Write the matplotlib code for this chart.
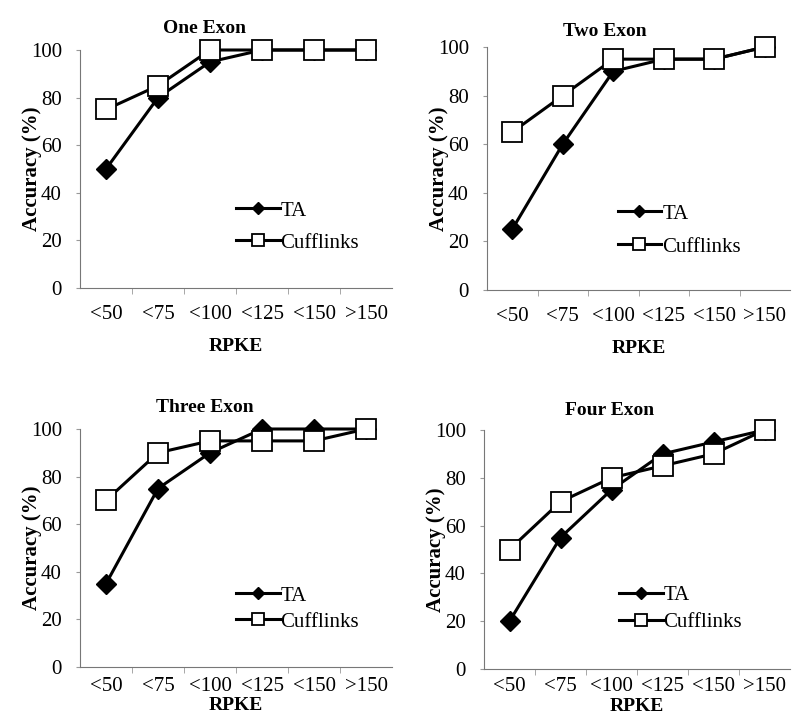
import matplotlib
matplotlib.use("Agg")
import matplotlib.pyplot as plt
import numpy as np

plt.rcParams['font.family'] = ['Liberation Serif', 'DejaVu Serif']

categories = ["<50", "<75", "<100", "<125", "<150", ">150"]
titles = ["One Exon", "Two Exon", "Three Exon", "Four Exon"]

ta_one = [50, 80, 95, 100, 100, 100]
cuff_one = [75, 85, 100, 100, 100, 100]
ta_two = [25, 60, 90, 95, 95, 100]
cuff_two = [65, 80, 95, 95, 95, 100]
ta_three = [35, 75, 90, 100, 100, 100]
cuff_three = [70, 90, 95, 95, 95, 100]
ta_four = [20, 55, 75, 90, 95, 100]
cuff_four = [50, 70, 80, 85, 90, 100]

ta_all = [ta_one, ta_two, ta_three, ta_four]
cuff_all = [cuff_one, cuff_two, cuff_three, cuff_four]

fig = plt.figure(figsize=(7.93, 7.28), dpi=100)
W, H = 793, 728
# pixel boxes (left, top, right, bottom) of each plot area
boxes = [(80, 50, 392, 288), (487, 47, 790, 290),
         (80, 429, 392, 667), (484, 430, 790, 669)]
title_x = [0.40, 0.39, 0.40, 0.41]
title_pad = [12, 8, 12, 11]
xtick_pad = [12, 12, 7, 6]
xlabel_pad = [10, 10, 1, 1]
leg_anchor = [(0.955, 0.07), (0.90, 0.06), (0.955, 0.07), (0.905, 0.075)]
leg_space = [0.6, 0.65, 0.3, 0.35]

x = np.arange(len(categories))
for i, (l, t, r, b) in enumerate(boxes):
    ax = fig.add_axes([l / W, 1 - b / H, (r - l) / W, (b - t) / H])
    ax.plot(x, ta_all[i], color='black', lw=2.2, marker='D', ms=10,
            mfc='black', mec='black', label='TA', zorder=3, clip_on=False)
    ax.plot(x, cuff_all[i], color='black', lw=2.2, marker='s', ms=15,
            mfc='white', mec='black', mew=1.3, label='Cufflinks', zorder=4,
            clip_on=False)
    ax.set_xlim(-0.5, 5.5)
    ax.set_ylim(0, 100)
    ax.set_yticks([0, 20, 40, 60, 80, 100])
    ax.set_xticks(x)
    ax.set_xticklabels(categories)
    ax.set_xticks(np.arange(0.5, 5.5, 1), minor=True)
    ax.tick_params(axis='x', which='major', length=0, labelsize=15, pad=xtick_pad[i])
    ax.tick_params(axis='x', which='minor', length=4, color='#999999')
    ax.tick_params(axis='y', length=3, color='#999999', labelsize=15, pad=10)
    for s in ['top', 'right']:
        ax.spines[s].set_visible(False)
    ax.spines['left'].set_color('#777777')
    ax.spines['bottom'].set_color('#777777')
    ax.set_title(titles[i], fontsize=14, fontweight='bold', x=title_x[i],
                 pad=title_pad[i])
    ax.set_xlabel("RPKE", fontsize=14, fontweight='bold', labelpad=xlabel_pad[i])
    ax.set_ylabel("Accuracy (%)", fontsize=15, fontweight='bold', labelpad=-8)
    ax.legend(loc='lower right', bbox_to_anchor=leg_anchor[i], frameon=False,
              fontsize=15, handlelength=2.1, handletextpad=0.05,
              labelspacing=leg_space[i], markerscale=0.6)

fig.savefig("out.png", dpi=100)
